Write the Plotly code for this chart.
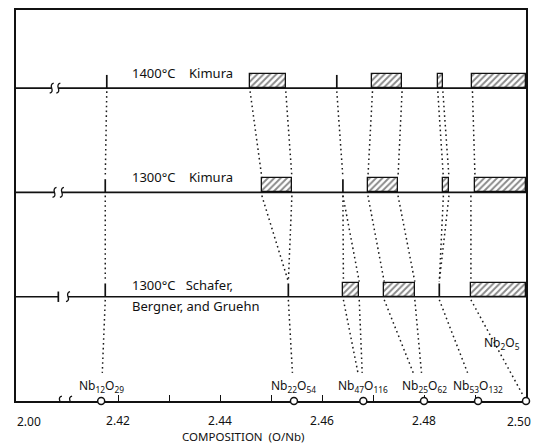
import plotly.graph_objects as go

# ---------------- data ----------------
row_labels = ["1400°C\u00a0\u00a0\u00a0 Kimura", "1300°C\u00a0\u00a0\u00a0 Kimura", "1300°C\u00a0\u00a0 Schafer,"]
row_sublabels = ["", "", "Bergner, and Gruehn"]
row_levels = [3, 2, 1]

# two-phase (hatched) regions, O/Nb start-end
boxes_1400_kimura = [(2.4459, 2.4529), (2.4699, 2.4757), (2.4827, 2.4837), (2.4895, 2.5000)]
boxes_1300_kimura = [(2.4482, 2.4541), (2.4690, 2.4749), (2.4838, 2.4849), (2.4900, 2.5000)]
boxes_1300_schafer = [(2.4642, 2.4673), (2.4722, 2.4782), (2.4892, 2.5000)]

# single-phase compositions (vertical ticks)
ticks_1400_kimura = [2.4178, 2.4629]
ticks_1300_kimura = [2.4175, 2.4641]
ticks_1300_schafer = [2.4175, 2.4534, 2.4830]

# compounds on the composition axis
compound_labels = ["Nb<sub>12</sub>O<sub>29</sub>", "Nb<sub>22</sub>O<sub>54</sub>",
                   "Nb<sub>47</sub>O<sub>116</sub>", "Nb<sub>25</sub>O<sub>62</sub>",
                   "Nb<sub>53</sub>O<sub>132</sub>", "Nb<sub>2</sub>O<sub>5</sub>"]
compound_ratio = [2.4167, 2.4545, 2.4681, 2.4800, 2.4906, 2.5000]

# dotted correlation lines (upper composition, lower composition)
links_1400k_1300k = [(2.4178, 2.4175), (2.4459, 2.4482), (2.4529, 2.4541), (2.4629, 2.4641),
                     (2.4699, 2.4690), (2.4757, 2.4749), (2.4827, 2.4838), (2.4837, 2.4849),
                     (2.4895, 2.4900)]
links_1300k_schafer = [(2.4175, 2.4175), (2.4482, 2.4534), (2.4541, 2.4534), (2.4641, 2.4642),
                       (2.4641, 2.4673), (2.4690, 2.4722), (2.4749, 2.4782), (2.4838, 2.4830),
                       (2.4849, 2.4830), (2.4892, 2.4892)]
links_schafer_axis = [(2.4175, 2.4167), (2.4534, 2.4545), (2.4642, 2.4681), (2.4673, 2.4681),
                      (2.4722, 2.4800), (2.4782, 2.4800), (2.4830, 2.4906), (2.4892, 2.5000)]

# axis break positions (left, right) per row and for the axis
row_breaks = [(2.4070, 2.4083), (2.40755, 2.4090), (2.4083, 2.4102)]
row_break_style = ["ss", "ss", "ts"]
axis_break = (2.4086, 2.4106)

axis_tick_vals = [2.42, 2.43, 2.44, 2.45, 2.46, 2.47, 2.48, 2.49, 2.50]
axis_tick_text = ["2.42", "", "2.44", "", "2.46", "", "2.48", "", ""]
axis_start_label = "2.00"
axis_end_label = "2.50"
x_title = "COMPOSITION  (O/Nb)"

# ---------------- styling constants ----------------
X0, X1 = 2.40, 2.50
H = 0.134          # box / tick height in y units (~14 px)
FONT = "Noto Sans"
INK = "#111111"
LABEL_X = 2.4224
TICK_FONT = dict(family=FONT, size=12, color=INK)

fig = go.Figure()

# row base lines with breaks
lx, ly = [], []
for lvl, (b1, b2) in zip(row_levels, row_breaks):
    lx += [X0, b1, None, b2, X1, None]
    ly += [lvl, lvl, None, lvl, lvl, None]
fig.add_trace(go.Scatter(x=lx, y=ly, mode="lines", line=dict(color=INK, width=1.7),
                         hoverinfo="skip", showlegend=False))

# vertical ticks (single phases) + end tick of broken row
tx, ty = [], []
for lvl, ticks in zip(row_levels, [ticks_1400_kimura, ticks_1300_kimura, ticks_1300_schafer]):
    for t in ticks:
        tx += [t, t, None]
        ty += [lvl, lvl + H * 0.95, None]
for lvl, (b1, b2), st in zip(row_levels, row_breaks, row_break_style):
    if st[0] == "t":
        tx += [b1, b1, None]
        ty += [lvl - 0.05, lvl + 0.05, None]
fig.add_trace(go.Scatter(x=tx, y=ty, mode="lines", line=dict(color=INK, width=1.7),
                         hoverinfo="skip", showlegend=False))

# hatched two-phase boxes
bb, bw, by = [], [], []
for lvl, boxes in zip(row_levels, [boxes_1400_kimura, boxes_1300_kimura, boxes_1300_schafer]):
    for s, e in boxes:
        bb.append(s)
        bw.append(e - s)
        by.append(lvl + H / 2)
fig.add_trace(go.Bar(orientation="h", base=bb, x=bw, y=by, width=H,
                     marker=dict(color="white", line=dict(color=INK, width=1.3),
                                 pattern=dict(shape="/", fgcolor=INK, bgcolor="white",
                                              size=4.5, solidity=0.42)),
                     hoverinfo="skip", showlegend=False))

# dotted correlation lines
dx, dy = [], []
for (up, lo), links in zip([(3, 2), (2, 1)], [links_1400k_1300k, links_1300k_schafer]):
    for a, b in links:
        dx += [a, b, None]
        dy += [up - 0.03, lo + H + 0.01, None]
for a, b in links_schafer_axis:
    stop = 0.06 if b == compound_ratio[-1] else 0.27
    if abs(a - b) < 0.0002:
        stop = 0.22
    frac = (1 - stop) / 1.0
    dx += [a, a + (b - a) * frac, None]
    dy += [1 - 0.03, stop, None]
fig.add_trace(go.Scatter(x=dx, y=dy, mode="lines",
                         line=dict(color="#1a1a1a", width=1.5, dash="1.6px,3.2px"),
                         hoverinfo="skip", showlegend=False))

# compound circles on the axis
fig.add_trace(go.Scatter(x=compound_ratio, y=[0] * len(compound_ratio), mode="markers",
                         marker=dict(symbol="circle", size=7, color="white",
                                     line=dict(color=INK, width=1.5)),
                         cliponaxis=False, hoverinfo="skip", showlegend=False))

annotations = []
for lbl, sub, lvl in zip(row_labels, row_sublabels, row_levels):
    annotations.append(dict(x=LABEL_X, y=lvl, text=lbl, showarrow=False, xanchor="left",
                            yanchor="middle", yshift=15 if not sub else 12,
                            font=dict(family=FONT, size=13, color=INK)))
    if sub:
        annotations.append(dict(x=LABEL_X, y=lvl, text=sub, showarrow=False, xanchor="left",
                                yanchor="middle", yshift=-9,
                                font=dict(family=FONT, size=13, color=INK)))

for lbl, c in zip(compound_labels[:-1], compound_ratio[:-1]):
    annotations.append(dict(x=c, y=0, text=lbl, showarrow=False, xanchor="center",
                            yanchor="middle", yshift=15,
                            font=dict(family=FONT, size=12, color=INK)))
annotations.append(dict(x=compound_ratio[-1], y=0.556, text=compound_labels[-1], showarrow=False,
                        xanchor="right", yanchor="middle", xshift=-4,
                        font=dict(family=FONT, size=12, color=INK)))

annotations.append(dict(x=2.4025, y=0, xref="x", yref="paper", text=axis_start_label,
                        showarrow=False, xanchor="center", yanchor="middle", yshift=-20,
                        font=TICK_FONT))
annotations.append(dict(x=X1, y=0, xref="x", yref="paper", text=axis_end_label,
                        showarrow=False, xanchor="right", yanchor="middle", yshift=-20,
                        xshift=7, font=TICK_FONT))
annotations.append(dict(x=2.4447, y=0, xref="x", yref="paper", text=x_title,
                        showarrow=False, xanchor="center", yanchor="middle", yshift=-35,
                        font=dict(family=FONT, size=11.5, color=INK)))

shapes = []
# gap in the composition axis
shapes.append(dict(type="rect", xref="x", yref="y", x0=axis_break[0] + 0.0002,
                   x1=axis_break[1] - 0.0002, y0=-0.03, y1=0.03,
                   fillcolor="white", line=dict(width=0), layer="above"))
s_path = "M 2,5 Q -1.5,4 0,0 Q 1.5,-4 -2,-5"
break_sets = []
for lvl, (b1, b2), st in zip(row_levels, row_breaks, row_break_style):
    if st[0] == "s":
        break_sets.append((b1, lvl))
    break_sets.append((b2, lvl))
break_sets += [(axis_break[0], 0), (axis_break[1], 0)]
for bx_, by_ in break_sets:
    shapes.append(dict(type="path", xref="x", yref="y", xsizemode="pixel", ysizemode="pixel",
                       xanchor=bx_, yanchor=by_, path=s_path,
                       line=dict(color=INK, width=1.3), layer="above"))

# page body adds an 8 px offset; figure sized to fit the 539x443 window
fig.update_layout(
    width=531, height=435,
    margin=dict(l=8, r=13, t=2, b=42, autoexpand=False),
    paper_bgcolor="white", plot_bgcolor="white",
    barmode="overlay", bargap=0,
    showlegend=False,
    annotations=annotations, shapes=shapes,
    xaxis=dict(range=[X0, X1], showline=True, mirror=True, linecolor=INK, linewidth=1.6,
               showgrid=False, zeroline=False, ticks="inside", ticklen=6, tickwidth=1.3,
               tickcolor=INK, tickvals=axis_tick_vals, ticktext=axis_tick_text,
               ticklabelstandoff=8, automargin=False,
               tickfont=TICK_FONT, layer="below traces",
               fixedrange=True),
    yaxis=dict(range=[0, 3.75], showline=True, mirror=True, linecolor=INK, linewidth=1.6,
               showgrid=False, zeroline=False, showticklabels=False, ticks="",
               automargin=False, layer="below traces", fixedrange=True),
)

fig.write_html("out.html")
